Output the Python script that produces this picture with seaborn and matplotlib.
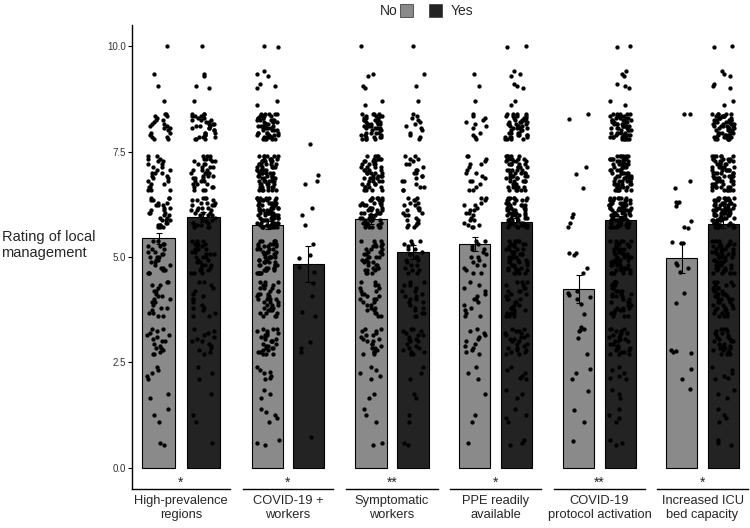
import numpy as np
import pandas as pd
import seaborn as sns
import matplotlib.pyplot as plt
from matplotlib.patches import Rectangle

facets = ["High-prevalence\nregions", "COVID-19 +\nworkers", "Symptomatic\nworkers",
          "PPE readily\navailable", "COVID-19\nprotocol activation", "Increased ICU\nbed capacity"]
stars = ["*", "*", "**", "*", "**", "*"]
groups = ["No", "Yes"]

mean_no = [5.45, 5.76, 5.90, 5.31, 4.24, 4.98]
mean_yes = [5.95, 4.83, 5.12, 5.83, 5.87, 5.79]
se_no = [0.13, 0.10, 0.11, 0.17, 0.34, 0.36]
se_yes = [0.12, 0.42, 0.16, 0.10, 0.10, 0.10]

# the ratings fall in bands; centre and half height of each band
band_mid = [0.6, 1.25, 1.75, 2.25, 3.0, 4.0, 5.0, 6.05, 7.0, 8.1, 8.7, 9.05, 9.35, 10.0]
band_half = [0.05, 0.15, 0.1, 0.15, 0.3, 0.4, 0.38, 0.35, 0.4, 0.3, 0.1, 0.05, 0.05, 0.03]

# points counted per band (dense groups)
highprev_no = [2, 3, 2, 5, 18, 22, 28, 32, 28, 22, 1, 1, 1, 1]
highprev_yes = [1, 2, 1, 3, 14, 17, 34, 38, 40, 35, 1, 2, 2, 1]
covid_no = [3, 5, 3, 7, 30, 40, 56, 75, 70, 58, 2, 3, 3, 2]
sympt_no = [2, 3, 2, 5, 22, 27, 40, 56, 53, 48, 2, 2, 2, 1]
sympt_yes = [2, 2, 2, 3, 21, 22, 22, 25, 22, 13, 1, 1, 1, 1]
ppe_no = [1, 2, 1, 3, 13, 15, 18, 20, 18, 12, 1, 1, 1, 0]
ppe_yes = [3, 4, 3, 6, 25, 32, 48, 62, 62, 50, 2, 3, 3, 2]
protocol_yes = [3, 4, 3, 6, 30, 37, 56, 78, 75, 60, 2, 3, 3, 2]
icu_yes = [3, 4, 3, 6, 30, 40, 57, 79, 72, 60, 2, 3, 3, 2]

# sparse groups, read point by point
covid_yes_pts = [7.67, 6.94, 6.79, 6.74, 6.17, 6.0, 5.75, 5.3, 5.05, 4.98, 4.77, 4.65,
                 4.38, 4.08, 3.7, 3.6, 2.98, 2.85, 2.75, 0.74]
protocol_no_pts = [8.39, 8.27, 7.14, 6.97, 6.64, 6.02, 5.96, 5.81, 5.72, 5.1, 5.1, 5.05,
                   4.75, 4.62, 4.2, 4.15, 4.1, 4.05, 4.0, 3.89, 3.65, 3.34, 3.3, 3.28,
                   3.25, 3.09, 2.7, 2.35, 2.25, 2.1, 1.83, 1.37, 1.1, 0.64]
icu_no_pts = [8.39, 8.39, 6.79, 6.64, 6.3, 6.3, 6.28, 6.2, 5.85, 5.71, 5.68, 5.34, 5.36,
              5.33, 4.85, 4.8, 4.75, 4.65, 4.15, 3.91, 2.8, 2.78, 2.75, 2.73, 2.35, 2.1, 1.87]

# vertical jitter inside a band (like geom_jitter height)
spread = [0, -1, 1, -0.5, 0.5, -0.83, 0.17, 0.83, -0.17, -0.67, 0.33, 0.67, -0.33]


def expand(counts):
    vals = []
    for mid, half, n in zip(band_mid, band_half, counts):
        for i in range(n):
            vals.append(mid + half * spread[i % len(spread)])
    return vals


cloud = [
    (expand(highprev_no), expand(highprev_yes)),
    (expand(covid_no), covid_yes_pts),
    (expand(sympt_no), expand(sympt_yes)),
    (expand(ppe_no), expand(ppe_yes)),
    (protocol_no_pts, expand(protocol_yes)),
    (icu_no_pts, expand(icu_yes)),
]
rows = []
for f, (no_vals, yes_vals) in zip(facets, cloud):
    rows += [(f, "No", v) for v in no_vals] + [(f, "Yes", v) for v in yes_vals]
points = pd.DataFrame(rows, columns=["facet", "group", "rating"])

sns.set_style("white")
plt.rcParams["font.family"] = ["Liberation Sans", "DejaVu Sans"]
np.random.seed(3)

bar_colors = {"No": "#8a8a8a", "Yes": "#232323"}
W, H = 750, 528
lefts = [132, 243, 346, 450, 554, 657]
rights = [230, 333, 438, 541, 645, 748]
bottom, top = 489, 25

fig = plt.figure(figsize=(7.5, 5.28), dpi=100)
for i, f in enumerate(facets):
    ax = fig.add_axes([lefts[i] / W, 1 - bottom / H, (rights[i] - lefts[i]) / W, (bottom - top) / H])
    bars = pd.DataFrame({"group": groups, "mean": [mean_no[i], mean_yes[i]]})
    sns.barplot(data=bars, x="group", y="mean", hue="group", order=groups, hue_order=groups,
                palette=bar_colors, width=0.75, edgecolor="black", linewidth=0.8,
                errorbar=None, legend=False, ax=ax)
    sns.stripplot(data=points[points.facet == f], x="group", y="rating", order=groups,
                  color="black", size=3.1, jitter=0.27, linewidth=0, ax=ax, zorder=3)
    ax.errorbar([0, 1], [mean_no[i], mean_yes[i]], yerr=[se_no[i], se_yes[i]], fmt="none",
                ecolor="black", elinewidth=0.8, capsize=2.3, capthick=0.8, zorder=4)
    ax.text(0.5, -0.36, stars[i], ha="center", va="center", fontsize=10)
    ax.text(0.5, -0.012, f, transform=ax.transAxes, ha="center", va="top",
            fontsize=9.3, linespacing=1.3)
    ax.set_xlim(-0.6, 1.6)
    ax.set_ylim(-0.5, 10.5)
    ax.set_xticks([])
    ax.set_xlabel("")
    ax.set_ylabel("")
    for s in ["top", "right"]:
        ax.spines[s].set_visible(False)
    ax.spines["bottom"].set_color("black")
    ax.spines["bottom"].set_linewidth(1.0)
    if i == 0:
        ax.spines["left"].set_color("black")
        ax.spines["left"].set_linewidth(1.0)
        ax.set_yticks([0, 2.5, 5, 7.5, 10])
        ax.set_yticklabels(["0.0", "2.5", "5.0", "7.5", "10.0"])
        ax.tick_params(axis="y", length=3, width=0.8, labelsize=7, colors="black",
                       labelcolor="#333333", pad=1.5, left=True)
    else:
        ax.spines["left"].set_visible(False)
        ax.set_yticks([])

fig.text(95 / W, 1 - 245 / H, "Rating of local\nmanagement", ha="right", va="center",
         multialignment="left", fontsize=10.5, linespacing=1.25)

# legend: label, box, box, label
fig.text(398 / W, 1 - 11 / H, "No", ha="right", va="center", fontsize=10)
fig.patches.append(Rectangle((400 / W, 1 - 17 / H), 13 / W, 13 / H, transform=fig.transFigure,
                             facecolor=bar_colors["No"], edgecolor="#444444", linewidth=0.6))
fig.patches.append(Rectangle((429 / W, 1 - 17 / H), 13 / W, 13 / H, transform=fig.transFigure,
                             facecolor=bar_colors["Yes"], edgecolor="#444444", linewidth=0.6))
fig.text(451 / W, 1 - 11 / H, "Yes", ha="left", va="center", fontsize=10)

fig.savefig("out.png", dpi=100)
